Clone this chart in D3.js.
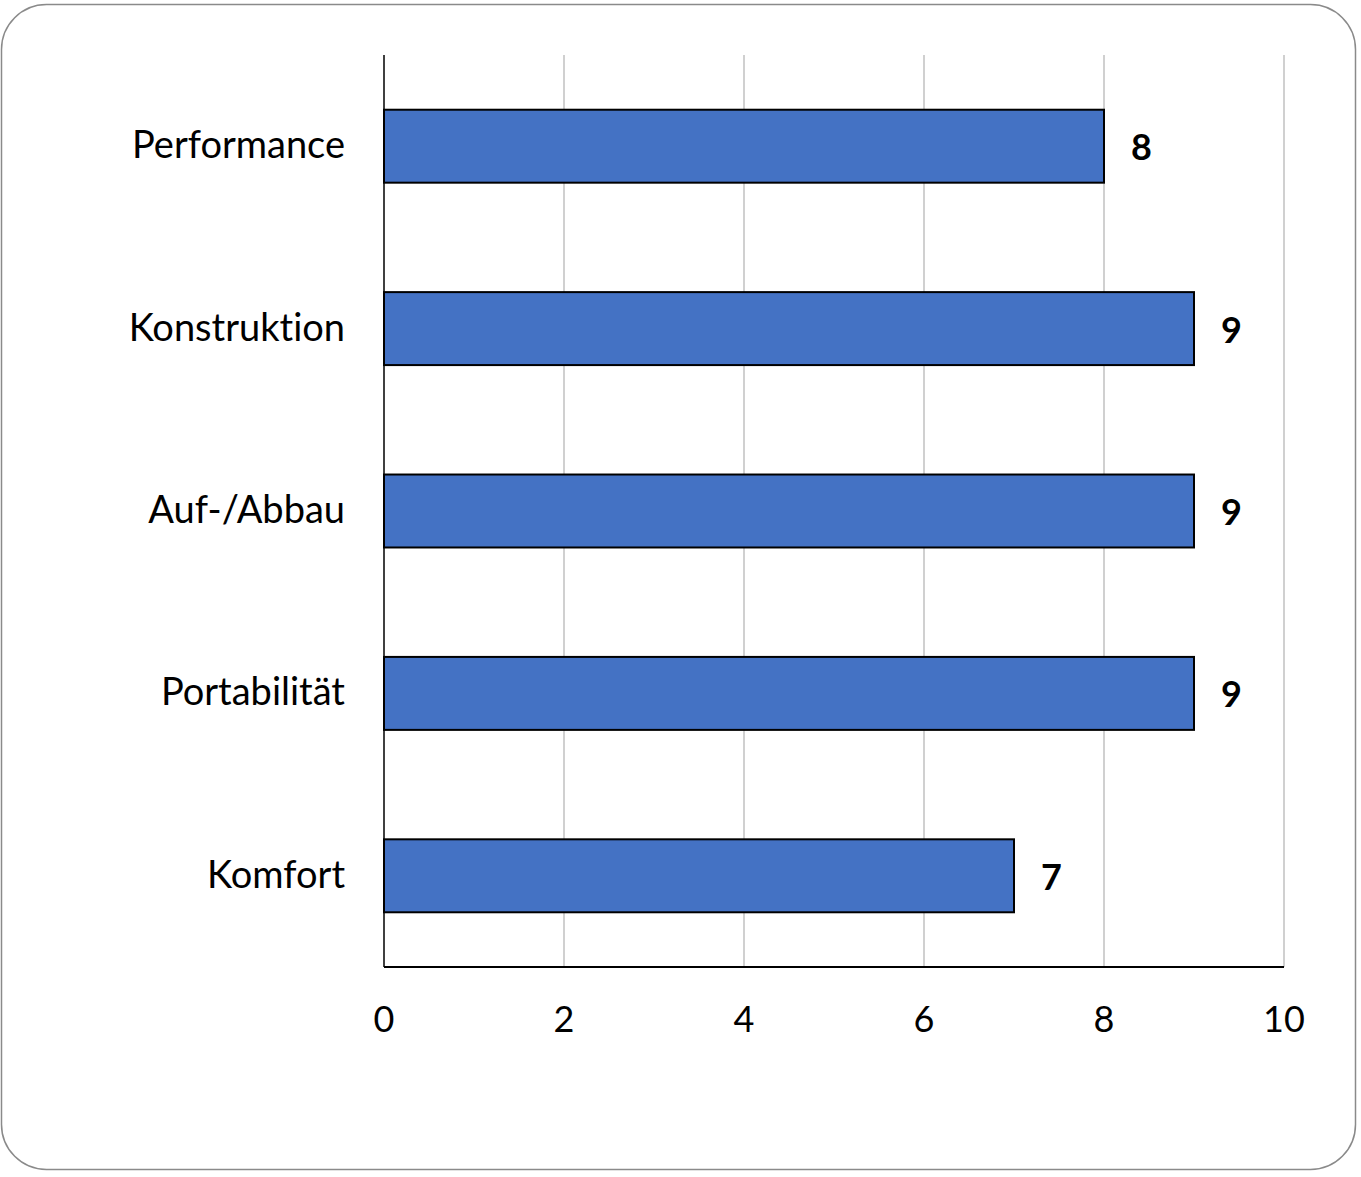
<!DOCTYPE html>
<html><head><meta charset="utf-8">
<script src="https://cdn.jsdelivr.net/npm/d3@7"></script>
<style>html,body{margin:0;padding:0;background:#fff;}svg{display:block;}text{font-variant-ligatures:none;}</style>
</head><body>
<script>
const categories = ["Performance", "Konstruktion", "Auf-/Abbau", "Portabilität", "Komfort"];
const values = [8, 9, 9, 9, 7];
const xTicks = [0, 2, 4, 6, 8, 10];

(function () {
const W = 1361, H = 1177;
const svg = d3.select("body").append("svg").attr("width", W).attr("height", H);
svg.append("rect").attr("x", 1.5).attr("y", 4.5).attr("width", 1354).attr("height", 1165)
  .attr("rx", 45).attr("ry", 45).attr("fill", "#fff").attr("stroke", "#8a8a8a").attr("stroke-width", 1.5);

const pL = 384, pR = 1284, pT = 55, pB = 967;
const font = "Lato, 'Open Sans', sans-serif";
const x = d3.scaleLinear().domain([0, 10]).range([pL, pR]);
const y = d3.scaleBand().domain(categories).range([pT, pB]).paddingInner(0.6).paddingOuter(0.3);

// gridlines
svg.append("g").selectAll("line").data(xTicks.filter(t => t > 0)).join("line")
  .attr("x1", d => x(d)).attr("x2", d => x(d)).attr("y1", pT).attr("y2", pB)
  .attr("stroke", "#d0d0d0").attr("stroke-width", 2);

// bars
svg.append("g").selectAll("rect").data(values).join("rect")
  .attr("x", x(0)).attr("y", (d, i) => y(categories[i]))
  .attr("width", d => x(d) - x(0)).attr("height", y.bandwidth())
  .attr("fill", "#4472C4").attr("stroke", "#000").attr("stroke-width", 2);

// axis lines
svg.append("line").attr("x1", pL).attr("x2", pL).attr("y1", pT).attr("y2", pB)
  .attr("stroke", "#000").attr("stroke-width", 1.5);
svg.append("line").attr("x1", pL).attr("x2", pR).attr("y1", pB).attr("y2", pB)
  .attr("stroke", "#000").attr("stroke-width", 2);

// x tick labels
svg.append("g").selectAll("text").data(xTicks).join("text")
  .attr("x", d => x(d)).attr("y", 1032).attr("text-anchor", "middle")
  .attr("font-family", font).attr("font-size", 36).attr("fill", "#000").text(d => d);

// category labels
svg.append("g").selectAll("text").data(categories).join("text")
  .attr("x", 345).attr("y", d => y(d) + y.bandwidth() / 2 + 12).attr("text-anchor", "end")
  .attr("font-family", font).attr("font-size", 38).attr("fill", "#000").text(d => d);

// value labels
svg.append("g").selectAll("text").data(values).join("text")
  .attr("x", d => x(d) + 27).attr("y", (d, i) => y(categories[i]) + y.bandwidth() / 2 + 14)
  .attr("font-family", font).attr("font-size", 36).attr("font-weight", "bold").attr("fill", "#000").text(d => d);
})();
</script>
</body></html>
